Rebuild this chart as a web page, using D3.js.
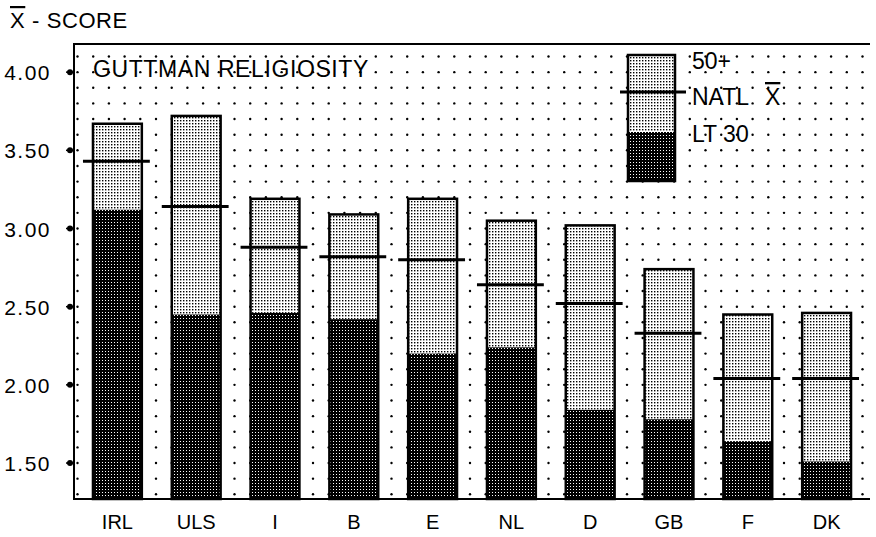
<!DOCTYPE html>
<html>
<head>
<meta charset="utf-8">
<script src="https://cdn.jsdelivr.net/npm/d3@7"></script>
<style>
  body { margin: 0; background: #fff; }
  text { font-family: "Liberation Sans", Arial, sans-serif; fill: #000; }
</style>
</head>
<body>
<svg id="chart" width="876" height="537"></svg>
<script>
// countries along the x axis
var countries = ['IRL', 'ULS', 'I', 'B', 'E', 'NL', 'D', 'GB', 'F', 'DK'];
// mean score, age 50 and over (top of bar)
var over50 = [3.67, 3.72, 3.19, 3.09, 3.19, 3.05, 3.02, 2.74, 2.45, 2.46];
// national mean (horizontal line)
var natl = [3.43, 3.14, 2.88, 2.82, 2.80, 2.64, 2.52, 2.33, 2.04, 2.04];
// mean score, less than 30 (dark part)
var lt30 = [3.12, 2.45, 2.46, 2.42, 2.20, 2.24, 1.84, 1.78, 1.64, 1.51];
var yTicks = [1.5, 2.0, 2.5, 3.0, 3.5, 4.0];

var data = countries.map(function (c, i) {
  return { c: c, top: over50[i], natl: natl[i], low: lt30[i] };
});

var svg = d3.select('#chart');

var pL = 74, pR = 870, pT = 44, pB = 499;

var x = d3.scaleBand()
  .domain(countries)
  .range([78, 866])
  .paddingInner(0.38)
  .paddingOuter(0.19);
var y = d3.scaleLinear()
  .domain([1.27, 4.18])
  .range([pB, pT]);

// stipple patterns
var defs = svg.append('defs');
var light = defs.append('pattern').attr('id', 'light')
  .attr('width', 3).attr('height', 3).attr('patternUnits', 'userSpaceOnUse');
light.append('rect').attr('width', 3).attr('height', 3).attr('fill', '#fff');
light.append('rect').attr('width', 1.4).attr('height', 1.4).attr('fill', '#000');
var dark = defs.append('pattern').attr('id', 'dark')
  .attr('width', 3).attr('height', 3).attr('patternUnits', 'userSpaceOnUse');
dark.append('rect').attr('width', 3).attr('height', 3).attr('fill', '#000');
dark.append('rect').attr('width', 1).attr('height', 1).attr('fill', '#fff');

// dot grid
var rows = d3.range(13, 42).map(function (i) { return i / 10; });
var cols = d3.range(0, 51).map(function (k) { return 77.5 + k * 15.7; })
  .filter(function (v) { return v <= pR; });
var grid = svg.append('g');
rows.forEach(function (r) {
  grid.selectAll(null)
    .data(cols)
    .enter()
    .append('circle')
    .attr('cx', function (d) { return d; })
    .attr('cy', y(r))
    .attr('r', 1.2)
    .attr('fill', '#000');
});

// frame (no right side)
svg.append('path')
  .attr('d', 'M' + pR + ',' + pT + 'H' + pL + 'V' + pB + 'H' + pR)
  .attr('fill', 'none')
  .attr('stroke', '#000')
  .attr('stroke-width', 2);

// y axis: ticks are little blobs left of the axis
var yAxis = svg.append('g');
yAxis.selectAll('circle')
  .data(yTicks)
  .enter()
  .append('circle')
  .attr('cx', 70)
  .attr('cy', function (d) { return y(d); })
  .attr('r', 3)
  .attr('fill', '#000');
yAxis.selectAll('line')
  .data(yTicks)
  .enter()
  .append('line')
  .attr('x1', 66).attr('x2', pL)
  .attr('y1', function (d) { return y(d); })
  .attr('y2', function (d) { return y(d); })
  .attr('stroke', '#000')
  .attr('stroke-width', 1.5);
yAxis.selectAll('text')
  .data(yTicks)
  .enter()
  .append('text')
  .attr('x', 51)
  .attr('y', function (d) { return y(d) + 8; })
  .attr('text-anchor', 'end')
  .attr('font-size', '21px')
  .attr('letter-spacing', '1.5px')
  .text(function (d) { return d.toFixed(2); });

// bars
var bars = svg.selectAll('g.bar')
  .data(data)
  .enter()
  .append('g')
  .attr('class', 'bar');
bars.append('rect')
  .attr('x', function (d) { return x(d.c); })
  .attr('y', function (d) { return y(d.top); })
  .attr('width', x.bandwidth())
  .attr('height', function (d) { return y(d.low) - y(d.top); })
  .attr('fill', 'url(#light)');
bars.append('rect')
  .attr('x', function (d) { return x(d.c); })
  .attr('y', function (d) { return y(d.low); })
  .attr('width', x.bandwidth())
  .attr('height', function (d) { return pB - y(d.low); })
  .attr('fill', 'url(#dark)');
bars.append('rect')
  .attr('x', function (d) { return x(d.c); })
  .attr('y', function (d) { return y(d.top); })
  .attr('width', x.bandwidth())
  .attr('height', function (d) { return pB - y(d.top); })
  .attr('fill', 'none')
  .attr('stroke', '#000')
  .attr('stroke-width', 2.5);
bars.append('line')
  .attr('x1', function (d) { return x(d.c) - 10; })
  .attr('x2', function (d) { return x(d.c) + x.bandwidth() + 8; })
  .attr('y1', function (d) { return y(d.natl); })
  .attr('y2', function (d) { return y(d.natl); })
  .attr('stroke', '#000')
  .attr('stroke-width', 3);

// category labels
svg.selectAll('text.cat')
  .data(countries)
  .enter()
  .append('text')
  .attr('class', 'cat')
  .attr('x', function (d) { return x(d) + x.bandwidth() / 2; })
  .attr('y', 529)
  .attr('text-anchor', 'middle')
  .attr('font-size', '20px')
  .text(function (d) { return d; });

// titles
var yt = svg.append('text').attr('x', 10).attr('y', 28)
  .attr('font-size', '22px').attr('letter-spacing', '0.6px');
yt.append('tspan').style('text-decoration', 'overline').text('X');
yt.append('tspan').text(' - SCORE');

svg.append('text')
  .attr('x', 93).attr('y', 77)
  .attr('font-size', '23px')
  .attr('letter-spacing', '0.6px')
  .text('GUTTMAN RELIGIOSITY');

// legend
var lg = svg.append('g');
lg.append('rect').attr('x', 628).attr('y', 55).attr('width', 47).attr('height', 77)
  .attr('fill', 'url(#light)');
lg.append('rect').attr('x', 628).attr('y', 132).attr('width', 47).attr('height', 49)
  .attr('fill', 'url(#dark)');
lg.append('rect').attr('x', 628).attr('y', 55).attr('width', 47).attr('height', 126)
  .attr('fill', 'none').attr('stroke', '#000').attr('stroke-width', 2.5);
lg.append('line').attr('x1', 620).attr('x2', 686).attr('y1', 92).attr('y2', 92)
  .attr('stroke', '#000').attr('stroke-width', 3);
lg.append('text').attr('x', 692).attr('y', 69).attr('font-size', '23px').text('50+');
var nt = lg.append('text').attr('x', 692).attr('y', 105).attr('font-size', '23px');
nt.append('tspan').text('NATL');
nt.append('tspan').attr('x', 765).style('text-decoration', 'overline').text('X');
lg.append('text').attr('x', 692).attr('y', 142).attr('font-size', '23px').text('LT 30');
</script>
</body>
</html>
